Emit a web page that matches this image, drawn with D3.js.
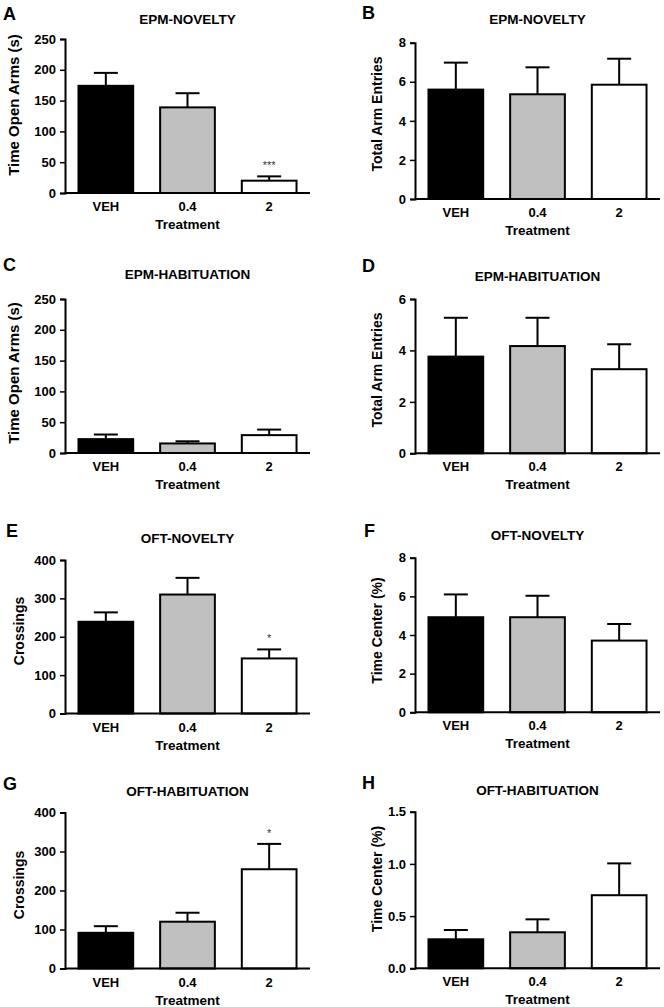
<!DOCTYPE html>
<html>
<head>
<meta charset="utf-8">
<script src="https://cdn.jsdelivr.net/npm/d3@7"></script>
<style>
  html, body { margin: 0; padding: 0; background: #fff; }
  svg { display: block; }
  text { font-family: "Liberation Sans", Arial, Helvetica, sans-serif; fill: #000; }
</style>
</head>
<body>
<svg id="chart" width="664" height="1007"></svg>
<script>
// ---------- data ----------
const categories = ["VEH", "0.4", "2"];
const barColors = ["#000000", "#c0c0c0", "#ffffff"];

const epmNoveltyTimeMean = [174, 139, 20];
const epmNoveltyTimeSem = [21, 23, 7];
const epmNoveltyEntriesMean = [5.6, 5.36, 5.85];
const epmNoveltyEntriesSem = [1.38, 1.38, 1.33];

const epmHabTimeMean = [22.5, 15.5, 29];
const epmHabTimeSem = [7.5, 3.5, 9];
const epmHabEntriesMean = [3.76, 4.17, 3.27];
const epmHabEntriesSem = [1.51, 1.1, 0.97];

const oftNoveltyCrossMean = [239, 310, 143.5];
const oftNoveltyCrossSem = [24.5, 43.5, 23.5];
const oftNoveltyCenterMean = [4.92, 4.92, 3.71];
const oftNoveltyCenterSem = [1.18, 1.11, 0.86];

const oftHabCrossMean = [91.5, 120, 254.5];
const oftHabCrossSem = [17, 23, 65];
const oftHabCenterMean = [0.278, 0.345, 0.70];
const oftHabCenterSem = [0.089, 0.124, 0.305];

const ticksTime = [0, 50, 100, 150, 200, 250];
const ticksEntries8 = [0, 2, 4, 6, 8];
const ticksEntries6 = [0, 2, 4, 6];
const ticksCross = [0, 100, 200, 300, 400];
const ticksCenter8 = [0, 2, 4, 6, 8];
const ticksCenter15 = [0, 0.5, 1.0, 1.5];

const panelLetters = ["A", "B", "C", "D", "E", "F", "G", "H"];
const panelTitles = ["EPM-NOVELTY", "EPM-NOVELTY", "EPM-HABITUATION", "EPM-HABITUATION",
                     "OFT-NOVELTY", "OFT-NOVELTY", "OFT-HABITUATION", "OFT-HABITUATION"];
const yLabels = ["Time Open Arms (s)", "Total Arm Entries", "Time Open Arms (s)", "Total Arm Entries",
                 "Crossings", "Time Center (%)", "Crossings", "Time Center (%)"];
const xLabel = "Treatment";
const significance = [["", "", "***"], ["", "", ""], ["", "", ""], ["", "", ""],
                      ["", "", "*"], ["", "", ""], ["", "", "*"], ["", "", ""]];

const panelMeans = [epmNoveltyTimeMean, epmNoveltyEntriesMean, epmHabTimeMean, epmHabEntriesMean,
                    oftNoveltyCrossMean, oftNoveltyCenterMean, oftHabCrossMean, oftHabCenterMean];
const panelSems = [epmNoveltyTimeSem, epmNoveltyEntriesSem, epmHabTimeSem, epmHabEntriesSem,
                   oftNoveltyCrossSem, oftNoveltyCenterSem, oftHabCrossSem, oftHabCenterSem];
const panelTicks = [ticksTime, ticksEntries8, ticksTime, ticksEntries6,
                    ticksCross, ticksCenter8, ticksCross, ticksCenter15];
const panelTickFormats = ["d", "d", "d", "d", "d", "d", "d", ".1f"];

// ---------- layout (pixels) ----------
const axisXs   = [65, 415, 65, 415, 65, 415, 65, 415];
const axisLen  = 245;
const yZeros   = [193, 199, 453, 453.3, 713.5, 712.3, 968.5, 968.3];
const yTops    = [39, 42.7, 299, 299, 560, 557.7, 812.5, 811.7];
const letterPos = [[3, 19.5], [362, 19], [3, 271], [362, 272], [6, 537], [364, 537], [3, 790], [362, 789]];
const titleBaselines = [23.5, 24, 279, 281, 542.5, 540, 796, 795];
const yLabelX = [19, 382, 19, 382, 24, 382, 24, 382];
const yLabelY = [105, 114, 373, 370, 631, 630.5, 885, 879];
const yLabelSize = [15, 14, 15, 14, 14, 14, 14, 14];

const svg = d3.select("#chart");

panelMeans.forEach((means, i) => {
  const ax = axisXs[i];
  const g = svg.append("g");
  const ticks = panelTicks[i];
  const y = d3.scaleLinear().domain([0, d3.max(ticks)]).range([yZeros[i], yTops[i]]);
  const x = d3.scaleBand().domain(categories).range([ax, ax + axisLen])
              .paddingInner(0.33).paddingOuter(0.165);

  // bars
  g.selectAll("rect.bar").data(means).join("rect")
    .attr("class", "bar")
    .attr("x", (d, j) => x(categories[j]))
    .attr("width", x.bandwidth())
    .attr("y", d => y(d))
    .attr("height", d => y(0) - y(d))
    .attr("fill", (d, j) => barColors[j])
    .attr("stroke", "#000")
    .attr("stroke-width", 2);

  // error bars (upper only)
  const sems = panelSems[i];
  means.forEach((m, j) => {
    const cx = x(categories[j]) + x.bandwidth() / 2;
    g.append("line")
      .attr("x1", cx).attr("x2", cx)
      .attr("y1", y(m)).attr("y2", y(m + sems[j]))
      .attr("stroke", "#000").attr("stroke-width", 2);
    g.append("line")
      .attr("x1", cx - 12).attr("x2", cx + 12)
      .attr("y1", y(m + sems[j])).attr("y2", y(m + sems[j]))
      .attr("stroke", "#000").attr("stroke-width", 2);
    const s = significance[i][j];
    if (s) {
      g.append("text")
        .attr("x", cx).attr("y", y(m + sems[j]) - 7)
        .attr("text-anchor", "middle")
        .attr("font-size", 11)
        .style("fill", "#333")
        .text(s);
    }
  });

  // y axis
  const yAxis = d3.axisLeft(y).tickValues(ticks).tickSize(5).tickPadding(4)
                  .tickFormat(d3.format(panelTickFormats[i]));
  const ya = g.append("g").attr("transform", `translate(${ax},0)`).call(yAxis);
  ya.select(".domain").attr("stroke", "#000").attr("stroke-width", 2);
  ya.selectAll(".tick line").attr("stroke", "#000").attr("stroke-width", 1.5);
  ya.selectAll(".tick text")
    .attr("font-size", 13).attr("font-weight", "bold")
    .attr("font-family", "Liberation Sans, Arial, sans-serif")
    .style("fill", "#000");

  // x axis
  const xAxis = d3.axisBottom(x).tickSize(0).tickPadding(0);
  const xa = g.append("g").attr("transform", `translate(0,${yZeros[i]})`).call(xAxis);
  xa.select(".domain").attr("stroke", "#000").attr("stroke-width", 2)
    .attr("d", `M${ax},0H${ax + axisLen}`);
  xa.selectAll(".tick text")
    .attr("dy", null).attr("y", 18)
    .attr("font-size", 13).attr("font-weight", "bold")
    .attr("font-family", "Liberation Sans, Arial, sans-serif")
    .style("fill", "#000");

  // x label
  g.append("text")
    .attr("x", ax + axisLen / 2).attr("y", yZeros[i] + 36)
    .attr("text-anchor", "middle")
    .attr("font-size", 13.5).attr("font-weight", "bold")
    .text(xLabel);

  // y label
  g.append("text")
    .attr("transform", `translate(${yLabelX[i]},${yLabelY[i]}) rotate(-90)`)
    .attr("text-anchor", "middle")
    .attr("font-size", yLabelSize[i]).attr("font-weight", "bold")
    .text(yLabels[i]);

  // title
  g.append("text")
    .attr("x", ax + axisLen / 2).attr("y", titleBaselines[i])
    .attr("text-anchor", "middle")
    .attr("font-size", 13.5).attr("font-weight", "bold")
    .text(panelTitles[i]);

  // panel letter
  g.append("text")
    .attr("x", letterPos[i][0]).attr("y", letterPos[i][1])
    .attr("font-size", 18).attr("font-weight", "bold")
    .text(panelLetters[i]);
});
</script>
</body>
</html>
